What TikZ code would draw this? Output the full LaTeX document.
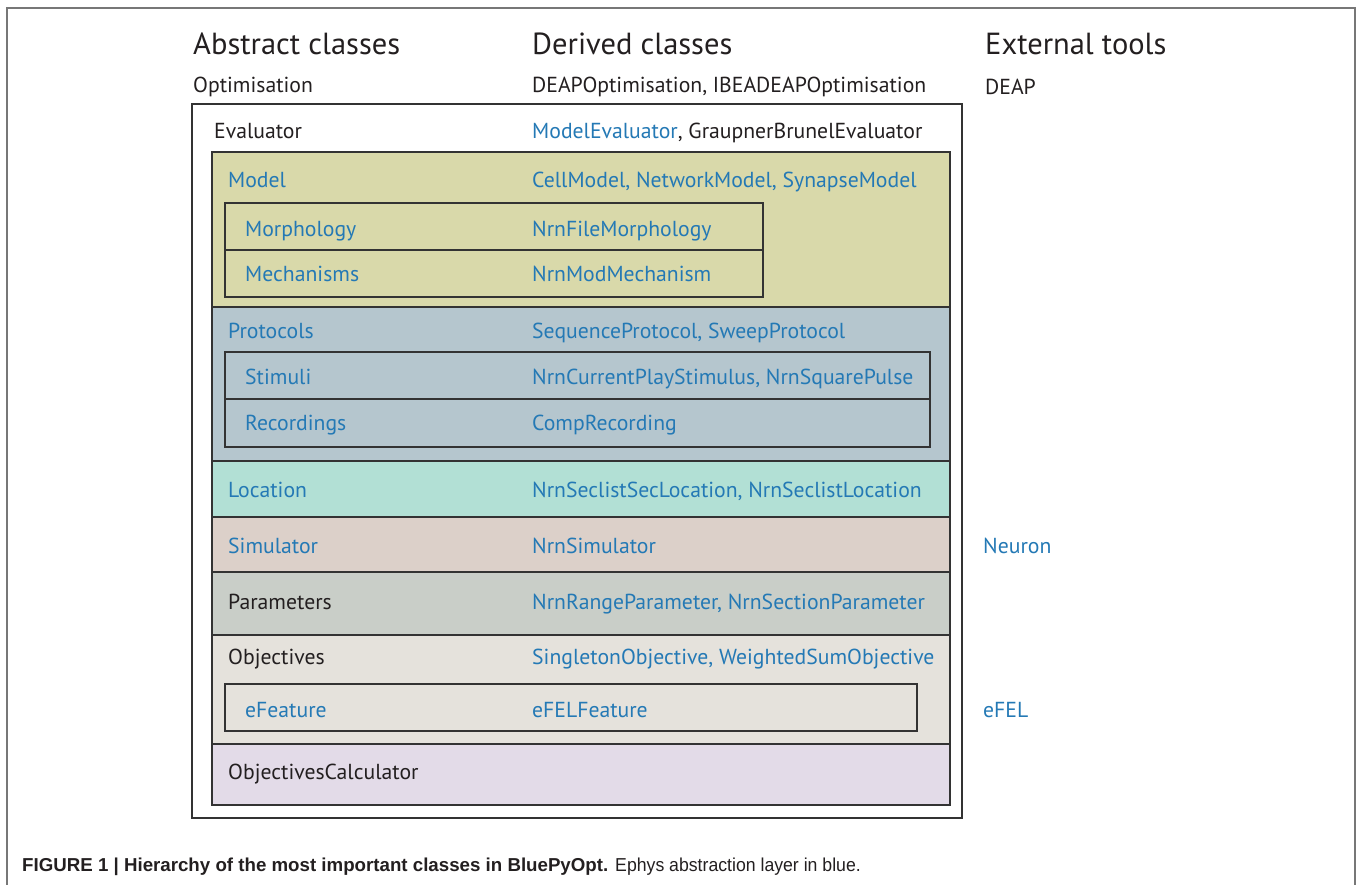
\documentclass[tikz,border=0pt]{standalone}
\usepackage{fontspec}
\setmainfont{PT Sans}
\newfontfamily\capfont{Liberation Sans}
\definecolor{bluetxt}{HTML}{2479B5}
\definecolor{blacktxt}{HTML}{231F20}
\definecolor{edgegray}{HTML}{333333}
\definecolor{framegray}{HTML}{777777}
\definecolor{cModel}{HTML}{D9D9AA}
\definecolor{cProt}{HTML}{B5C6CE}
\definecolor{cLoc}{HTML}{B2E0D5}
\definecolor{cSim}{HTML}{DCD0C9}
\definecolor{cPar}{HTML}{C9CEC8}
\definecolor{cObj}{HTML}{E5E2DC}
\definecolor{cCalc}{HTML}{E3DBE8}
\tikzset{
  hdr/.style={anchor=base west, inner sep=0pt, font=\fontsize{30.5}{32}\selectfont, text=blacktxt},
  lbl/.style={anchor=base west, inner sep=0pt, font=\fontsize{21.7}{24}\selectfont, text=blacktxt},
  blbl/.style={lbl, text=bluetxt},
  band/.style={draw=edgegray, line width=2pt},
  subbox/.style={draw=edgegray, line width=2pt},
  frameline/.style={draw=framegray, line width=2pt},
}
\begin{document}
\begin{tikzpicture}[x=1pt,y=-1pt]
\useasboundingbox (0,0) rectangle (1360,885);
% outer figure frame
\coordinate (fbl) at (7,885);
\coordinate (ftl) at (7,8);
\coordinate (ftr) at (1355,8);
\coordinate (fbr) at (1355,885);
\draw[frameline] (fbl) -- (ftl) -- (ftr) -- (fbr);
% headers
\node[hdr] (hAbs) at (193,55) {Abstract classes};
\node[hdr] (hDer) at (532,55) {Derived classes};
\node[hdr] (hExt) at (985,55) {External tools};
\node[lbl] (opt) at (193,93) {Optimisation};
\node[lbl] (optd) at (532,93) {DEAPOptimisation, IBEADEAPOptimisation};
\node[lbl] (deap) at (985,95) {DEAP};
% evaluator box
\draw[band, fill=white] (192,104) rectangle (962,818);
\node[lbl] (ev) at (214,139) {Evaluator};
\node[lbl] (evd) at (532,139) {\textcolor{bluetxt}{ModelEvaluator}, GraupnerBrunelEvaluator};
% bands
\draw[band, fill=cModel] (212,152) rectangle (950,307);
\draw[band, fill=cProt] (212,307) rectangle (950,461);
\draw[band, fill=cLoc] (212,461) rectangle (950,517);
\draw[band, fill=cSim] (212,517) rectangle (950,572);
\draw[band, fill=cPar] (212,572) rectangle (950,635);
\draw[band, fill=cObj] (212,635) rectangle (950,744);
\draw[band, fill=cCalc] (212,744) rectangle (950,805);
% sub boxes
\draw[subbox] (225,203) rectangle (763,297);
\draw[subbox] (225,250) -- (763,250);
\draw[subbox] (225,352) rectangle (930,447);
\draw[subbox] (225,399) -- (930,399);
\draw[subbox] (225,684) rectangle (917,731);
% labels
\node[blbl] (model) at (228,188) {Model};
\node[blbl] (modeld) at (532,188) {CellModel, NetworkModel, SynapseModel};
\node[blbl] (morph) at (245,237) {Morphology};
\node[blbl] (morphd) at (532,237) {NrnFileMorphology};
\node[blbl] (mech) at (245,282) {Mechanisms};
\node[blbl] (mechd) at (532,282) {NrnModMechanism};
\node[blbl] (prot) at (228,338) {Protocols};
\node[blbl] (protd) at (532,338) {SequenceProtocol, SweepProtocol};
\node[blbl] (stim) at (245,384) {Stimuli};
\node[blbl] (stimd) at (532,384) {NrnCurrentPlayStimulus, NrnSquarePulse};
\node[blbl] (rec) at (245,430) {Recordings};
\node[blbl] (recd) at (532,430) {CompRecording};
\node[blbl] (loc) at (228,497) {Location};
\node[blbl] (locd) at (532,497) {NrnSeclistSecLocation, NrnSeclistLocation};
\node[blbl] (sim) at (228,553) {Simulator};
\node[blbl] (simd) at (532,553) {NrnSimulator};
\node[blbl] (neuron) at (983,553) {Neuron};
\node[lbl] (par) at (228,609) {Parameters};
\node[blbl] (pard) at (532,609) {NrnRangeParameter, NrnSectionParameter};
\node[lbl] (obj) at (228,664) {Objectives};
\node[blbl] (objd) at (532,664) {SingletonObjective, WeightedSumObjective};
\node[blbl] (efeat) at (245,717) {eFeature};
\node[blbl] (efeatd) at (532,717) {eFELFeature};
\node[blbl] (efel) at (983,717) {eFEL};
\node[lbl] (calc) at (228,779) {ObjectivesCalculator};
% caption
\node[anchor=base west, inner sep=0pt, font=\capfont\fontsize{18.7}{20}\selectfont, text=blacktxt] (cap) at (22,871)
  {\textbf{FIGURE 1 | Hierarchy of the most important classes in BluePyOpt.} \scalebox{0.945}[1]{Ephys abstraction layer in blue.}};
\end{tikzpicture}
\end{document}
